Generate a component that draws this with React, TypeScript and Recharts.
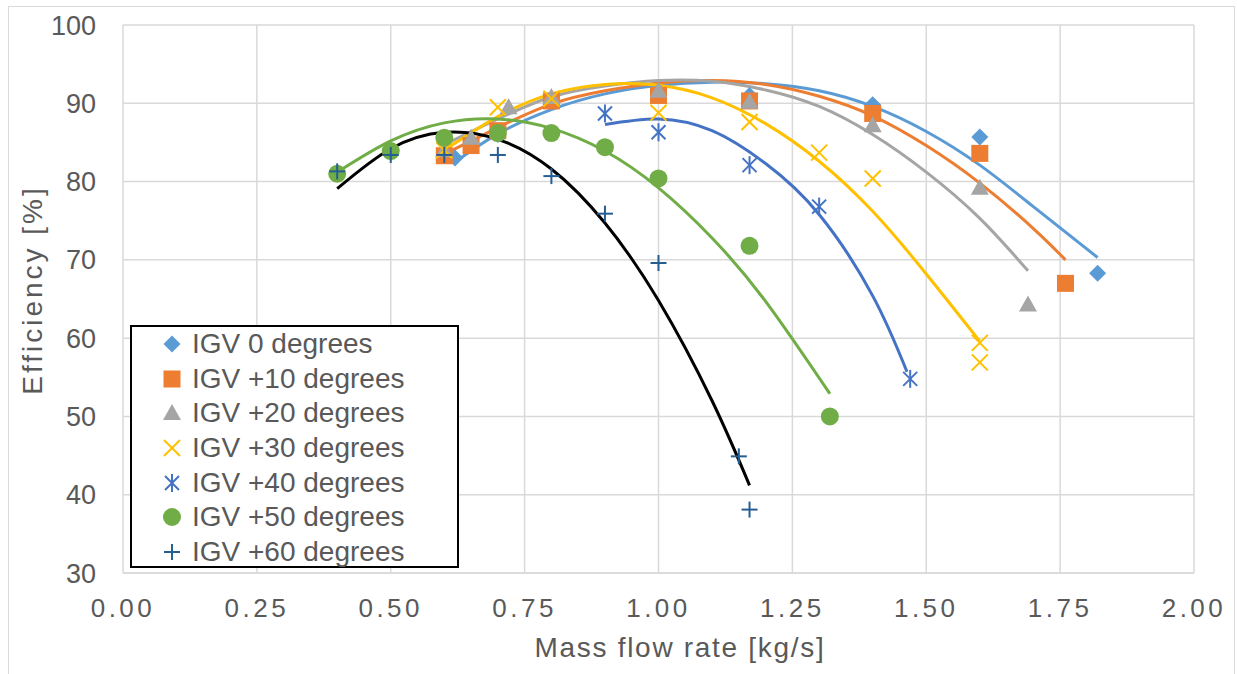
import React from "react"
import { ScatterChart, Scatter, XAxis, YAxis, CartesianGrid } from "recharts"

// measured points (mass flow [kg/s], efficiency [%])
const igv0X = [0.62, 0.7, 0.8, 1.0, 1.17, 1.4, 1.6, 1.82]
const igv0Y = [83.0, 86.0, 90.5, 91.5, 91.0, 89.8, 85.7, 68.3]
const igv10X = [0.6, 0.65, 0.7, 0.8, 1.0, 1.17, 1.4, 1.6, 1.76]
const igv10Y = [83.3, 84.6, 86.5, 90.3, 91.0, 90.3, 88.7, 83.6, 67.0]
const igv20X = [0.6, 0.65, 0.72, 0.8, 1.0, 1.17, 1.4, 1.6, 1.69]
const igv20Y = [84.0, 85.6, 89.5, 90.8, 91.6, 90.2, 87.2, 79.2, 64.3]
const igv30X = [0.6, 0.7, 0.8, 1.0, 1.17, 1.3, 1.4, 1.6, 1.6]
const igv30Y = [84.0, 89.5, 90.6, 88.8, 87.6, 83.7, 80.4, 59.4, 56.9]
const igv40X = [0.9, 1.0, 1.17, 1.3, 1.47]
const igv40Y = [88.7, 86.3, 82.1, 76.8, 54.8]
const igv50X = [0.4, 0.5, 0.6, 0.7, 0.8, 0.9, 1.0, 1.17, 1.32]
const igv50Y = [81.0, 83.9, 85.6, 86.2, 86.2, 84.4, 80.4, 71.8, 50.0]
const igv60X = [0.4, 0.5, 0.6, 0.7, 0.8, 0.9, 1.0, 1.15, 1.17]
const igv60Y = [81.3, 83.4, 83.4, 83.4, 80.7, 75.9, 69.6, 44.9, 38.1]

// trendlines
const t0X = [0.62, 0.7, 0.8, 0.9, 1.0, 1.1, 1.2, 1.3, 1.4, 1.5, 1.6, 1.7, 1.82]
const t0Y = [82.5, 86.1, 89.2, 91.2, 92.3, 92.7, 92.5, 91.6, 89.6, 86.4, 82.1, 76.8, 70.3]
const t10X = [0.6, 0.7, 0.8, 0.9, 1.0, 1.1, 1.2, 1.3, 1.4, 1.5, 1.6, 1.7, 1.76]
const t10Y = [83.5, 86.9, 89.9, 91.6, 92.6, 92.9, 92.4, 90.9, 88.4, 84.6, 79.8, 74.0, 70.0]
const t20X = [0.6, 0.7, 0.8, 0.9, 1.0, 1.1, 1.2, 1.3, 1.4, 1.5, 1.6, 1.69]
const t20Y = [84.7, 88.0, 90.8, 92.2, 92.9, 92.8, 91.7, 89.6, 86.0, 81.2, 75.3, 68.6]
const t30X = [0.6, 0.7, 0.8, 0.9, 1.0, 1.1, 1.2, 1.3, 1.4, 1.5, 1.6]
const t30Y = [84.0, 88.3, 91.2, 92.4, 92.3, 90.7, 87.4, 82.6, 76.2, 68.2, 59.6]
const t40X = [0.9, 1.0, 1.1, 1.2, 1.3, 1.4, 1.464]
const t40Y = [87.3, 88.0, 86.5, 82.3, 75.8, 65.4, 55.7]
const t50X = [0.4, 0.5, 0.6, 0.7, 0.8, 0.9, 1.0, 1.1, 1.2, 1.32]
const t50Y = [81.2, 85.2, 87.5, 88.0, 86.8, 83.9, 79.2, 72.8, 64.7, 52.9]
const t60X = [0.4, 0.5, 0.6, 0.7, 0.8, 0.9, 1.0, 1.1, 1.17]
const t60Y = [79.1, 84.2, 86.3, 85.4, 81.6, 74.7, 64.8, 52.0, 41.2]

const xTicks = [0, 0.25, 0.5, 0.75, 1, 1.25, 1.5, 1.75, 2]
const yTicks = [30, 40, 50, 60, 70, 80, 90, 100]

const FONT = '"Liberation Sans", Arial, sans-serif'
const TEXT = "#595959"

const zip = (xs: number[], ys: number[]) => xs.map((x, i) => ({ x, y: ys[i] }))

type MarkerKind = "diamond" | "square" | "triangle" | "x" | "star" | "circle" | "plus"

function Marker({ kind, cx, cy, color }: { kind: MarkerKind; cx: number; cy: number; color: string }) {
  const r = 8.5
  switch (kind) {
    case "diamond":
      return <polygon points={`${cx},${cy - r} ${cx + r},${cy} ${cx},${cy + r} ${cx - r},${cy}`} fill={color} />
    case "square":
      return <rect x={cx - 8.5} y={cy - 8.5} width={17} height={17} fill={color} />
    case "triangle":
      return <polygon points={`${cx},${cy - 9} ${cx + 9},${cy + 7} ${cx - 9},${cy + 7}`} fill={color} />
    case "x":
      return (
        <g stroke={color} strokeWidth={2}>
          <line x1={cx - 8} y1={cy - 8} x2={cx + 8} y2={cy + 8} />
          <line x1={cx - 8} y1={cy + 8} x2={cx + 8} y2={cy - 8} />
        </g>
      )
    case "star":
      return (
        <g stroke={color} strokeWidth={2}>
          <line x1={cx - 7} y1={cy - 7} x2={cx + 7} y2={cy + 7} />
          <line x1={cx - 7} y1={cy + 7} x2={cx + 7} y2={cy - 7} />
          <line x1={cx} y1={cy - 9} x2={cx} y2={cy + 9} />
        </g>
      )
    case "circle":
      return <circle cx={cx} cy={cy} r={9} fill={color} />
    case "plus":
      return (
        <g stroke={color} strokeWidth={2}>
          <line x1={cx - 8} y1={cy} x2={cx + 8} y2={cy} />
          <line x1={cx} y1={cy - 8} x2={cx} y2={cy + 8} />
        </g>
      )
  }
}

const series = [
  { name: "IGV 0 degrees", xs: igv0X, ys: igv0Y, tx: t0X, ty: t0Y, kind: "diamond" as MarkerKind, color: "#5B9BD5", trend: "#5B9BD5" },
  { name: "IGV +10 degrees", xs: igv10X, ys: igv10Y, tx: t10X, ty: t10Y, kind: "square" as MarkerKind, color: "#ED7D31", trend: "#ED7D31" },
  { name: "IGV +20 degrees", xs: igv20X, ys: igv20Y, tx: t20X, ty: t20Y, kind: "triangle" as MarkerKind, color: "#A5A5A5", trend: "#A5A5A5" },
  { name: "IGV +30 degrees", xs: igv30X, ys: igv30Y, tx: t30X, ty: t30Y, kind: "x" as MarkerKind, color: "#FFC000", trend: "#FFC000" },
  { name: "IGV +40 degrees", xs: igv40X, ys: igv40Y, tx: t40X, ty: t40Y, kind: "star" as MarkerKind, color: "#4472C4", trend: "#4472C4" },
  { name: "IGV +50 degrees", xs: igv50X, ys: igv50Y, tx: t50X, ty: t50Y, kind: "circle" as MarkerKind, color: "#70AD47", trend: "#70AD47" },
  { name: "IGV +60 degrees", xs: igv60X, ys: igv60Y, tx: t60X, ty: t60Y, kind: "plus" as MarkerKind, color: "#255E91", trend: "#000000" },
]

const XTick = ({ x, y, payload }: any) => (
  <text x={x} y={y} dy="0.71em" textAnchor="middle" fill={TEXT} fontSize={26} fontFamily={FONT} letterSpacing={3.5}>
    {Number(payload.value).toFixed(2)}
  </text>
)

const YTick = ({ x, y, payload }: any) => (
  <text x={x} y={y} dy="0.355em" textAnchor="end" fill={TEXT} fontSize={27} fontFamily={FONT}>
    {payload.value}
  </text>
)

function LegendBox() {
  return (
    <div
      style={{
        position: "absolute",
        left: 130,
        top: 325,
        width: 325,
        height: 239,
        border: "2px solid #000",
        background: "#fff",
        fontFamily: FONT,
        fontSize: 28,
        color: TEXT,
      }}
    >
      {series.map((s) => (
        <div key={s.name} style={{ display: "flex", alignItems: "center", height: 34.6, whiteSpace: "nowrap" }}>
          <svg width={60} height={24} style={{ flex: "none" }}>
            <Marker kind={s.kind} cx={40} cy={12} color={s.color} />
          </svg>
          <span style={{ lineHeight: "28px" }}>{s.name}</span>
        </div>
      ))}
    </div>
  )
}

export default function App() {
  return (
    <div style={{ position: "absolute", left: 0, top: 0, width: 1237, height: 674, overflow: "hidden", background: "#fff" }}>
      <div style={{ position: "absolute", left: 8, top: 6, width: 1225, height: 700, border: "1px solid #D9D9D9" }} />
      <ScatterChart width={1237} height={674} margin={{ top: 25, right: 43, bottom: 0, left: 0 }}>
        <CartesianGrid stroke="#D9D9D9" strokeWidth={1.5} />
        <XAxis
          type="number"
          dataKey="x"
          domain={[0, 2]}
          ticks={xTicks}
          axisLine={{ stroke: "#D9D9D9", strokeWidth: 1.5 }}
          tickLine={false}
          tickSize={0}
          tickMargin={26}
          tick={<XTick />}
          height={101}
          label={{
            content: () => (
              <text x={680} y={657} textAnchor="middle" fill={TEXT} fontSize={28} fontFamily={FONT} letterSpacing={1.7}>
                Mass flow rate [kg/s]
              </text>
            ),
          }}
        />
        <YAxis
          type="number"
          dataKey="y"
          domain={[30, 100]}
          ticks={yTicks}
          width={123}
          axisLine={false}
          tickLine={false}
          tickSize={0}
          tickMargin={27}
          tick={<YTick />}
          label={{
            content: () => (
              <text
                x={42}
                y={290}
                transform="rotate(-90, 42, 290)"
                textAnchor="middle"
                fill={TEXT}
                fontSize={28}
                fontFamily={FONT}
                letterSpacing={3}
              >
                Efficiency [%]
              </text>
            ),
          }}
        />
        {series.map((s) => (
          <Scatter
            key={`t-${s.name}`}
            data={zip(s.tx, s.ty)}
            line={{ stroke: s.trend, strokeWidth: 3 }}
            lineJointType="natural"
            shape={() => <g />}
            legendType="none"
            isAnimationActive={false}
          />
        ))}
        {series.map((s) => (
          <Scatter
            key={s.name}
            name={s.name}
            data={zip(s.xs, s.ys)}
            fill={s.color}
            shape={(p: any) => <Marker kind={s.kind} cx={p.cx} cy={p.cy} color={s.color} />}
            isAnimationActive={false}
          />
        ))}
      </ScatterChart>
      <LegendBox />
    </div>
  )
}
